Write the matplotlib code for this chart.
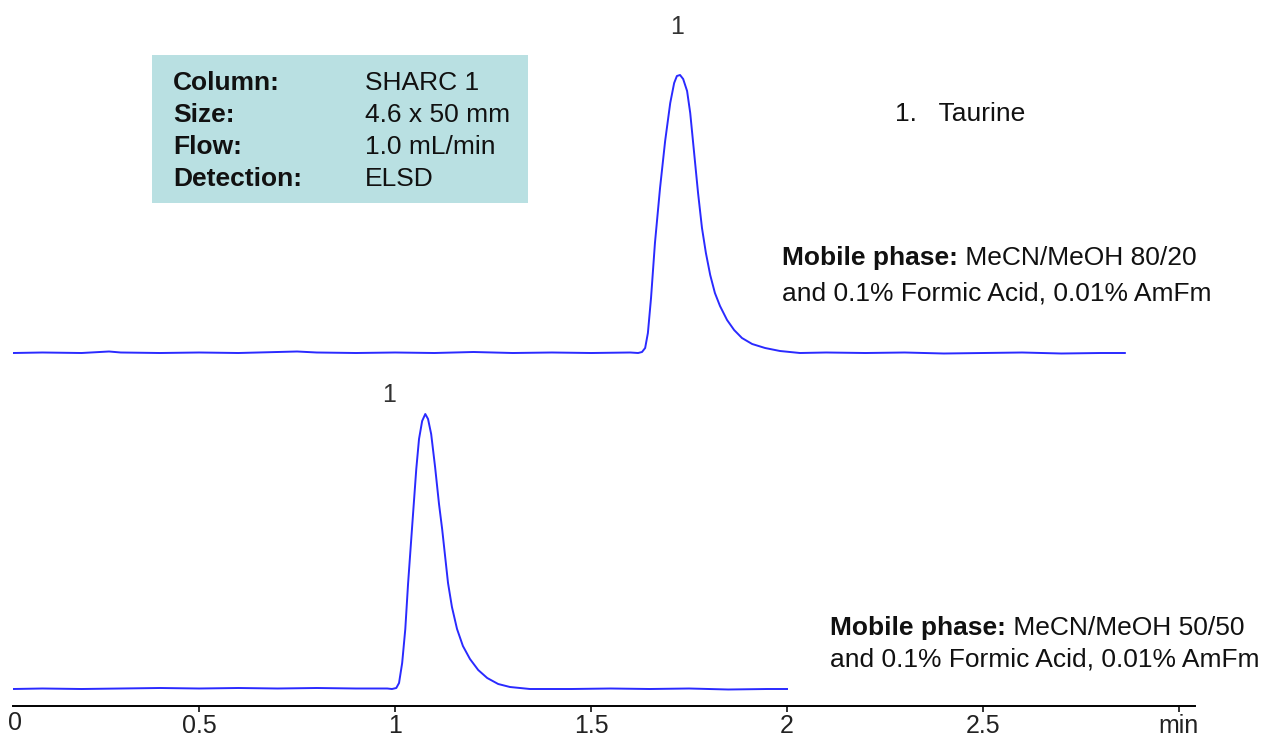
import numpy as np
import matplotlib.pyplot as plt

plt.rcParams['font.family'] = ['Liberation Sans', 'DejaVu Sans']

# run 1: MeCN/MeOH 80/20 (upper trace)
t_top = [0.026, 0.10, 0.20, 0.27, 0.30, 0.40, 0.50, 0.60, 0.70, 0.75, 0.80, 0.90,
         1.00, 1.10, 1.20, 1.30, 1.40, 1.50, 1.60,
         1.620, 1.630, 1.638, 1.645, 1.653, 1.663, 1.676, 1.689, 1.702, 1.712, 1.719,
         1.727, 1.735, 1.745, 1.753, 1.763, 1.773, 1.783, 1.793, 1.804, 1.816, 1.829,
         1.847, 1.865, 1.885, 1.911, 1.944, 1.982, 2.033,
         2.10, 2.20, 2.30, 2.40, 2.50, 2.60, 2.70, 2.80, 2.862]
y_top = [0, 0.5, 0, 1.5, 0.5, 0, 0.5, 0, 1, 1.5, 0.5, 0,
         0.5, 0, 1, 0, 0.5, 0, 0.5,
         0, 1, 5, 20, 55, 110, 165, 212, 250, 270, 277,
         278, 274, 262, 240, 200, 160, 125, 100, 78, 60, 47,
         33, 23, 15, 9, 5, 2, 0,
         0.5, 0, 0.5, -0.5, 0, 0.5, -0.5, 0, 0]

# run 2: MeCN/MeOH 50/50 (lower trace)
t_bot = [0.026, 0.10, 0.20, 0.30, 0.40, 0.50, 0.60, 0.70, 0.80, 0.90, 0.98,
         0.992, 1.003, 1.010, 1.018, 1.026, 1.033, 1.043, 1.054, 1.061, 1.069, 1.077,
         1.084, 1.092, 1.102, 1.112, 1.120, 1.135, 1.145, 1.158, 1.173, 1.191, 1.212,
         1.235, 1.263, 1.293, 1.344,
         1.45, 1.55, 1.65, 1.75, 1.85, 1.95, 2.00]
y_bot = [0, 0.5, 0, 0.5, 1, 0.5, 1, 0.5, 1, 0.5, 0.5,
         0, 1, 6, 26, 60, 105, 160, 220, 250, 268, 275,
         270, 255, 222, 185, 160, 106, 82, 60, 43, 30, 19,
         11, 5, 2, 0,
         0, 0.5, 0, 0.5, -0.5, 0, 0]

xticks = [0.5, 1, 1.5, 2, 2.5, 3]
xlabels = ['0.5', '1', '1.5', '2', '2.5', 'min']

info_keys = ['Column:', 'Size:', 'Flow:', 'Detection:']
info_vals = ['SHARC 1', '4.6 x 50 mm', '1.0 mL/min', 'ELSD']

W, H = 1269, 740
fig = plt.figure(figsize=(W / 100, H / 100), dpi=100)
ax = fig.add_axes([13 / W, 34 / H, (1195 - 13) / W, 706 / H])

line_col = '#2a2aff'
ax.plot(t_top, np.array(y_top) + 353, color=line_col, lw=1.4)
ax.plot(t_bot, np.array(y_bot) + 17, color=line_col, lw=1.4)

ax.set_xlim(0.025, 3.041)
ax.set_ylim(0, 706)
for s in ['left', 'right', 'top']:
    ax.spines[s].set_visible(False)
ax.spines['bottom'].set_linewidth(1.4)
ax.set_yticks([])
ax.set_xticks(xticks)
ax.set_xticklabels(xlabels)
tfs = 18
ax.tick_params(axis='x', length=4, width=1.3, labelsize=tfs, pad=2, colors='#222222')

fs = 19
fig.text(15 / W, 1 - 723 / H, '0', ha='center', va='center', fontsize=tfs, color='#222222')

# peak labels
ax.text(1.719, 679, '1', ha='center', va='center', fontsize=tfs, color='#333333')
ax.text(0.985, 311, '1', ha='center', va='center', fontsize=tfs, color='#333333')

# conditions box
fig.patches.append(plt.Rectangle((152 / W, 1 - 203 / H), (528 - 152) / W, (203 - 55) / H,
                                 transform=fig.transFigure, facecolor='#b9e0e2',
                                 edgecolor='none', zorder=0))
rows_y = [83, 115, 147, 179]
for k, v, yy in zip(info_keys, info_vals, rows_y):
    fig.text(173 / W, 1 - yy / H, k, ha='left', va='center', fontsize=fs,
             fontweight='bold', color='#111111')
    fig.text(365 / W, 1 - yy / H, v, ha='left', va='center', fontsize=fs, color='#111111')

fig.text(895 / W, 1 - 114 / H, '1.   Taurine', ha='left', va='center', fontsize=fs,
         color='#111111')


def mobile(x, y1, y2, ratio):
    b = fig.text(x / W, 1 - y1 / H, 'Mobile phase:', ha='left', va='center',
                 fontsize=fs, fontweight='bold', color='#111111')
    ax.annotate(' MeCN/MeOH ' + ratio, xy=(1, 0), xycoords=b, ha='left', va='bottom',
                fontsize=fs, color='#111111')
    fig.text(x / W, 1 - y2 / H, 'and 0.1% Formic Acid, 0.01% AmFm', ha='left',
             va='center', fontsize=fs, color='#111111')


mobile(782, 258, 294, '80/20')
mobile(830, 628, 660, '50/50')

fig.savefig('out.png', dpi=100)
